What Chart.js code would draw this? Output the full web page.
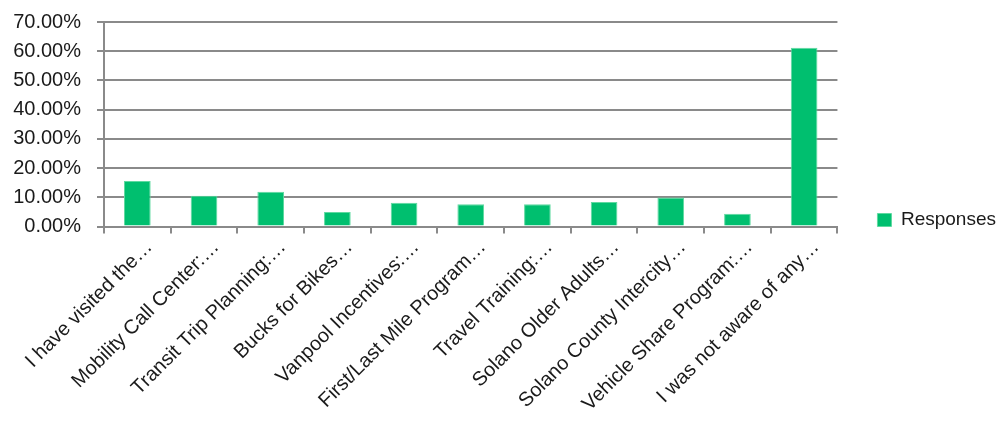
<!DOCTYPE html>
<html>
<head>
<meta charset="utf-8">
<script src="https://cdn.jsdelivr.net/npm/chart.js@4"></script>
<style>
  html, body { margin: 0; padding: 0; background: #fff; }
  #wrap { width: 1003px; height: 421px; }
</style>
</head>
<body>
<div id="wrap"><canvas id="awareness"></canvas></div>
<script>
var labels = [
  "I have visited the…",
  "Mobility Call Center:…",
  "Transit Trip Planning:…",
  "Bucks for Bikes…",
  "Vanpool Incentives:…",
  "First/Last Mile Program…",
  "Travel Training:…",
  "Solano Older Adults…",
  "Solano County Intercity…",
  "Vehicle Share Program:…",
  "I was not aware of any…"
];
var responses = [15.6, 10.5, 11.9, 5.0, 8.1, 7.6, 7.6, 8.4, 9.9, 4.4, 61.2];
var yTicks = [0, 10, 20, 30, 40, 50, 60, 70];

var green = "#00BF6F";
var gridGray = "#8a8a8a";
var font = "'Liberation Sans', Arial, sans-serif";

Chart.defaults.font.family = font;
Chart.defaults.color = "#1a1a1a";

var ctx = document.getElementById("awareness").getContext("2d");
var myChart = new Chart(ctx, {
  type: "bar",
  data: {
    labels: labels,
    datasets: [{
      label: "Responses",
      data: responses,
      backgroundColor: green,
      borderColor: "#5fd9a0",
      borderWidth: 1,
      barPercentage: 0.4,
      categoryPercentage: 1.0
    }]
  },
  options: {
    responsive: true,
    maintainAspectRatio: false,
    animation: false,
    layout: { padding: { top: 22, left: 9, right: -3, bottom: 3 } },
    plugins: {
      tooltip: { enabled: false },
      legend: {
        position: "right",
        labels: {
          boxWidth: 14,
          boxHeight: 13,
          padding: 40,
          font: { size: 19 },
          color: "#1a1a1a"
        }
      }
    },
    scales: {
      x: {
        afterFit: function(scale) {
          scale.paddingLeft = 0;
          scale.paddingRight = 0;
        },
        grid: {
          drawOnChartArea: false,
          drawTicks: true,
          tickLength: 7,
          lineWidth: 2,
          color: gridGray
        },
        border: { color: gridGray, width: 2 },
        ticks: {
          autoSkip: false,
          minRotation: 45,
          maxRotation: 45,
          labelOffset: 12,
          padding: 2,
          font: { size: 20 },
          color: "#1a1a1a"
        }
      },
      y: {
        min: 0,
        max: 70,
        afterBuildTicks: function(axis) {
          axis.ticks = yTicks.map(function(v) { return { value: v }; });
        },
        afterFit: function(scale) {
          scale.width = 95;
          scale.paddingTop = 0;
          scale.paddingBottom = 0;
        },
        grid: {
          color: gridGray,
          lineWidth: 2,
          tickLength: 7
        },
        border: { color: gridGray, width: 2 },
        ticks: {
          font: { size: 20 },
          color: "#1a1a1a",
          padding: 16,
          callback: function(v) { return v.toFixed(2) + "%"; }
        }
      }
    }
  }
});
</script>
</body>
</html>
